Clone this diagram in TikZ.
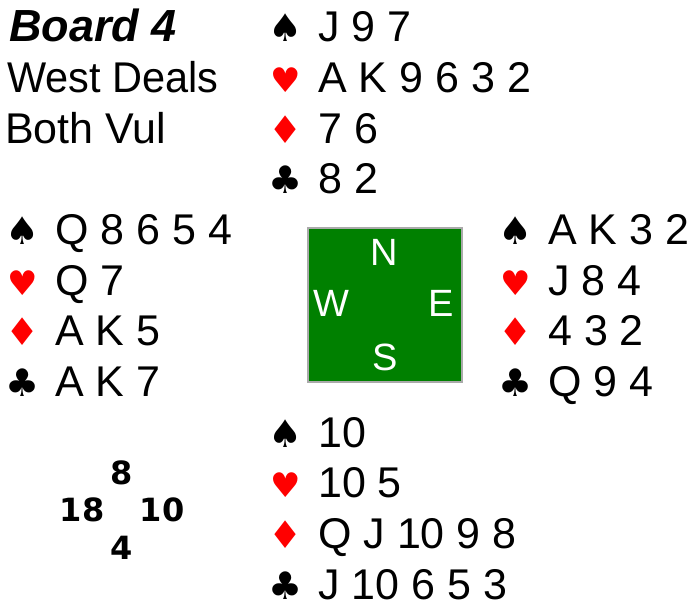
\documentclass[tikz,border=0pt]{standalone}
\usepackage{fontspec}
\setmainfont{Liberation Sans}
\newfontfamily\suitfont{DejaVu Sans}
\newfontfamily\hcpfont{DejaVu Sans}
\definecolor{boardgreen}{RGB}{0,128,0}
\definecolor{boardedge}{RGB}{170,170,170}
\definecolor{suitred}{RGB}{255,0,0}
\newcommand{\cardsize}{\fontsize{43}{50}\selectfont}
\newcommand{\bridgehand}[7]{%
  % #1 name, #2 text x, #3 first baseline, #4..#7 holdings
  \node[suitsym, anchor=base] (#1-ssym) at (#2-32, #3) {♠};
  \node[cards] (#1-s) at (#2, #3) {#4};
  \node[suitsym, anchor=base, text=suitred, font=\suitfont\fontsize{34}{40}\selectfont] (#1-hsym) at (#2-32, #3+50.65) {♥};
  \node[cards] (#1-h) at (#2, #3+50.65) {#5};
  \node[suitsym, anchor=base, text=suitred] (#1-dsym) at (#2-32, #3+101.3) {♦};
  \node[cards] (#1-d) at (#2, #3+101.3) {#6};
  \node[suitsym, anchor=base] (#1-csym) at (#2-32, #3+151.95) {♣};
  \node[cards] (#1-c) at (#2, #3+151.95) {#7};
}
\begin{document}
\begin{tikzpicture}[x=1pt, y=-1pt,
  cards/.style={anchor=base west, inner sep=0pt, font=\cardsize},
  suitsym/.style={inner sep=0pt, font=\suitfont\fontsize{38}{44}\selectfont},
  compass/.style={inner sep=0pt, text=white, font=\fontsize{38}{42}\selectfont},
  hcp/.style={inner sep=0pt, font=\hcpfont\bfseries\fontsize{32}{36}\selectfont}]
\useasboundingbox (0,0) rectangle (688,610);
% header
\node[cards, font=\fontsize{45}{50}\selectfont\bfseries\itshape] (title) at (9,42) {Board 4};
\node[cards] (dealer) at (7,92.65) {\scalebox{0.965}[1]{West Deals}};
\node[cards] (vul) at (5,143.3) {Both Vul};
% hands
\bridgehand{north}{318}{42}{J 9 7}{A K 9 6 3 2}{7 6}{8 2}
\bridgehand{west}{55}{244.6}{Q 8 6 5 4}{Q 7}{A K 5}{A K 7}
\bridgehand{east}{548}{244.6}{A K 3 2}{J 8 4}{4 3 2}{Q 9 4}
\bridgehand{south}{318}{447.2}{10}{10 5}{Q J 10 9 8}{J 10 6 5 3}
% board
\node[draw=boardedge, line width=1.2pt, fill=boardgreen, minimum size=154pt, inner sep=0pt] (board) at (385,305) {};
\node[compass] (cN) at (384,252) {N};
\node[compass] (cW) at (331,303) {W};
\node[compass] (cE) at (441,303) {E};
\node[compass] (cS) at (385,357) {S};
% points
\node[hcp] (pN) at (122,473) {8};
\node[hcp] (pW) at (82,510) {18};
\node[hcp] (pE) at (162,510) {10};
\node[hcp] (pS) at (122,548) {4};
\end{tikzpicture}
\end{document}
